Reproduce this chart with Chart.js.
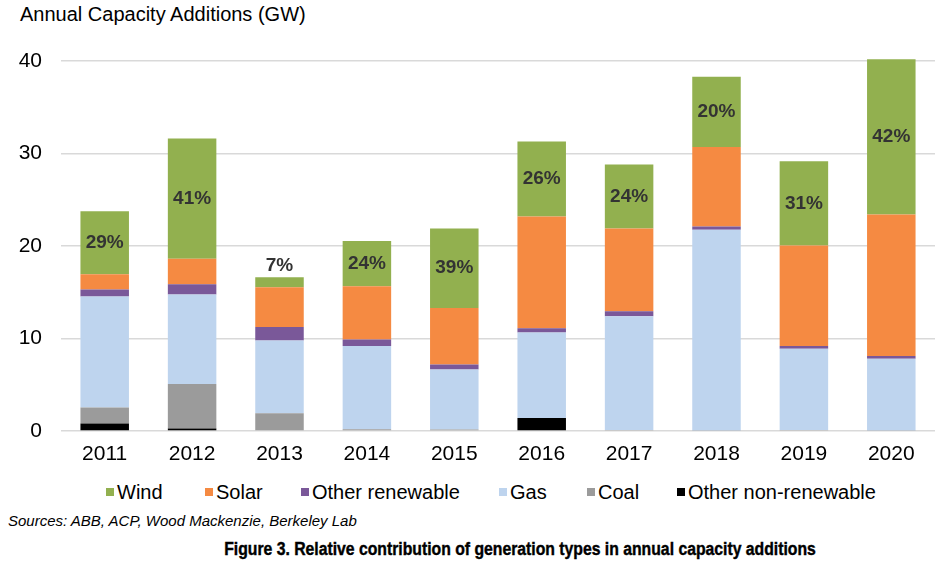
<!DOCTYPE html>
<html>
<head>
<meta charset="utf-8">
<script src="https://cdn.jsdelivr.net/npm/chart.js@4.4.1/dist/chart.umd.min.js"></script>
<style>
  body { margin: 0; background: #fff; font-family: Arial, "Liberation Sans", sans-serif; }
  #wrap { position: relative; width: 952px; height: 572px; overflow: hidden; }
  #title { position: absolute; left: 20px; top: 3px; font-size: 20px; color: #000; }
  #box { position: absolute; left: 0; top: 0; width: 952px; height: 471px; }
  #legend { position: absolute; left: 0; top: 480px; width: 952px; height: 24px; }
  .legend-item { position: absolute; top: 0; display: flex; align-items: center; font-size: 20px; line-height: 24px; color: #000; }
  .legend-dot { width: 8px; height: 8px; margin-right: 3px; }
  #sources { position: absolute; left: 8px; top: 512px; font-size: 15px; font-style: italic; color: #000; }
  #caption { position: absolute; left: 0; width: 1040px; top: 539px; text-align: center;
             font-family: "Liberation Sans Narrow", "Arial Narrow", Arial, sans-serif; font-weight: bold;
             font-size: 17.5px; color: #000; -webkit-text-stroke: 0.4px #000;
             transform: scaleX(0.9); transform-origin: 520px 0; }
</style>
</head>
<body>
<div id="wrap">
  <div id="title">Annual Capacity Additions (GW)</div>
  <div id="box"><canvas id="chart"></canvas></div>
  <div id="legend"></div>
  <div id="sources">Sources: ABB, ACP, Wood Mackenzie, Berkeley Lab</div>
  <div id="caption">Figure 3. Relative contribution of generation types in annual capacity additions</div>
</div>
<script>
// values (GW)
const years = ['2011', '2012', '2013', '2014', '2015', '2016', '2017', '2018', '2019', '2020'];
const otherNonRenewable = [0.8, 0.27, 0, 0, 0, 1.4, 0, 0, 0, 0];
const coal              = [1.75, 4.8, 1.93, 0.2, 0.15, 0, 0.1, 0.05, 0.1, 0.05];
const gas               = [12.0, 9.7, 7.85, 9.0, 6.5, 9.25, 12.3, 21.7, 8.8, 7.75];
const otherRenewable    = [0.75, 1.1, 1.45, 0.7, 0.55, 0.45, 0.55, 0.35, 0.3, 0.3];
const solar             = [1.65, 2.75, 4.3, 5.75, 6.1, 12.1, 8.95, 8.6, 10.85, 15.3];
const wind              = [6.8, 13.0, 1.1, 4.9, 8.6, 8.1, 6.9, 7.6, 9.1, 16.8];
const windShare         = ['29%', '41%', '7%', '24%', '39%', '26%', '24%', '20%', '31%', '42%'];
const yTicks            = [0, 10, 20, 30, 40];

const COLOURS = {
  wind:     '#92b04f',
  solar:    '#f58a42',
  otherRen: '#7a5899',
  gas:      '#bed4ee',
  coal:     '#9b9b9b',
  otherNon: '#000000',
};

// legend (Excel order: top of stack first), positions match the reference
const legendItems = [
  { label: 'Wind',                color: COLOURS.wind,     x: 106 },
  { label: 'Solar',               color: COLOURS.solar,    x: 205 },
  { label: 'Other renewable',     color: COLOURS.otherRen, x: 301 },
  { label: 'Gas',                 color: COLOURS.gas,      x: 499 },
  { label: 'Coal',                color: COLOURS.coal,     x: 587 },
  { label: 'Other non-renewable', color: COLOURS.otherNon, x: 677 },
];
document.getElementById('legend').innerHTML = legendItems.map(item => `
  <div class="legend-item" style="left:${item.x}px">
    <div class="legend-dot" style="background:${item.color}"></div>
    <span>${item.label}</span>
  </div>
`).join('');

// wind share label inside the wind segment (above the bar when too thin)
const windLabels = {
  id: 'windLabels',
  afterDatasetsDraw(chart) {
    const idx = chart.data.datasets.findIndex(ds => ds.label === 'Wind');
    const meta = chart.getDatasetMeta(idx);
    const ctx = chart.ctx;
    ctx.save();
    ctx.font = 'bold 19px Arial, "Liberation Sans", sans-serif';
    ctx.fillStyle = '#333333';
    ctx.textAlign = 'center';
    ctx.textBaseline = 'middle';
    meta.data.forEach((bar, i) => {
      const h = bar.base - bar.y;
      const y = h < 26 ? bar.y - 11 : (bar.y + bar.base) / 2;
      ctx.fillText(windShare[i], bar.x, y);
    });
    ctx.restore();
  },
};

const seg = (label, data, color) => ({
  label, data, backgroundColor: color, borderWidth: 0,
  stack: 'cap', clip: false,
  barPercentage: 0.555, categoryPercentage: 1,
});

new Chart(document.getElementById('chart'), {
  type: 'bar',
  data: {
    labels: years,
    datasets: [
      seg('Other non-renewable', otherNonRenewable, COLOURS.otherNon),
      seg('Coal', coal, COLOURS.coal),
      seg('Gas', gas, COLOURS.gas),
      seg('Other renewable', otherRenewable, COLOURS.otherRen),
      seg('Solar', solar, COLOURS.solar),
      seg('Wind', wind, COLOURS.wind),
    ],
  },
  options: {
    responsive: true,
    maintainAspectRatio: false,
    animation: false,
    layout: { padding: { top: 61, right: 17, left: 0, bottom: 0 } },
    plugins: { legend: { display: false }, tooltip: { enabled: false } },
    scales: {
      x: {
        stacked: true,
        grid: { display: false, drawTicks: false },
        border: { display: false },
        ticks: { color: '#000', padding: 11, font: { size: 21, family: 'Arial, "Liberation Sans", sans-serif' } },
        afterFit(scale) { scale.height = 40; },
      },
      y: {
        stacked: true,
        min: 0,
        max: 40,
        grid: { color: '#d9d9d9', lineWidth: 1.5, drawTicks: false },
        border: { display: false },
        afterBuildTicks(scale) { scale.ticks = yTicks.map(v => ({ value: v })); },
        ticks: { color: '#000', padding: 19, font: { size: 21, family: 'Arial, "Liberation Sans", sans-serif' } },
        afterFit(scale) { scale.width = 61; },
      },
    },
  },
  plugins: [windLabels],
});
</script>
</body>
</html>
